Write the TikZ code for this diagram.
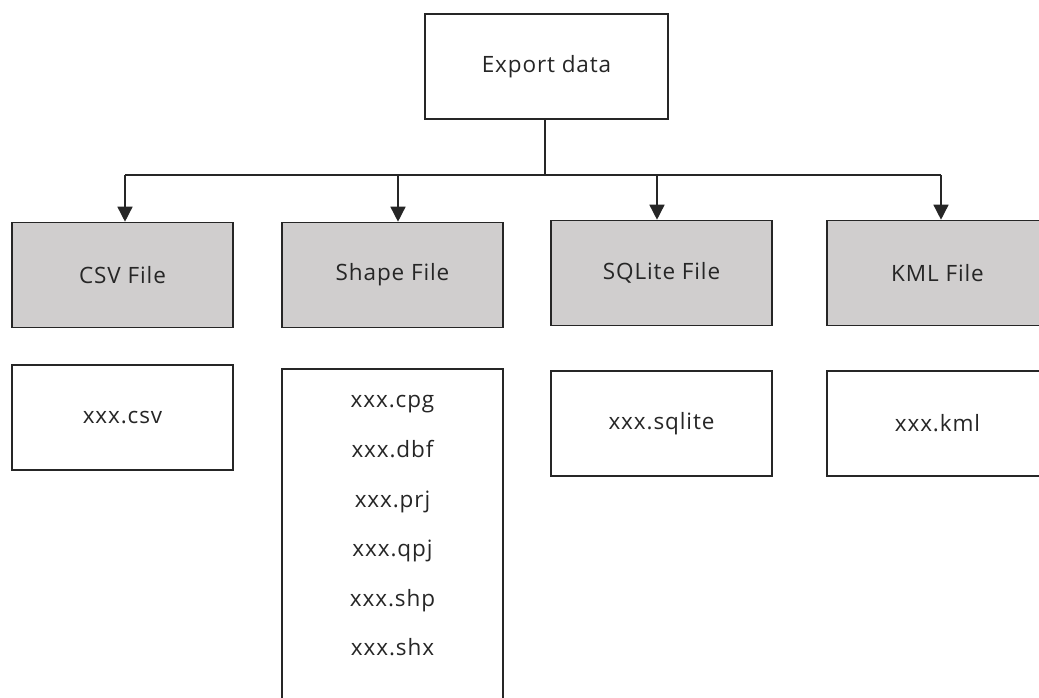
\documentclass[tikz,border=0pt]{standalone}
\usepackage{fontspec}
\setmainfont{Open Sans}[LetterSpace=4]
\usetikzlibrary{arrows.meta}
\definecolor{boxgray}{HTML}{D0CECE}
\definecolor{edge}{HTML}{262626}
\tikzset{
  every node/.style={font=\fontsize{22.5}{26}\selectfont, text=black!85},
  plainbox/.style={draw=edge, line width=1.6pt, fill=white, rectangle,
    minimum width=221pt, minimum height=105pt, inner sep=0pt},
  graybox/.style={plainbox, fill=boxgray},
  link/.style={draw=edge, line width=1.5pt},
  feed/.style={link, -{Triangle[length=15pt,width=15pt]}},
}
\begin{document}
\begin{tikzpicture}[x=1pt, y=-1pt]
  \useasboundingbox (0,0) rectangle (1039,697);

  % root
  \node[plainbox, minimum width=243pt] (export) at (546.5,66.5) {Export data};

  % file types
  \node[graybox] (csv)    at (122.5,275) {CSV File};
  \node[graybox] (shape)  at (392.5,275) {Shape File};
  \node[graybox] (sqlite) at (661.5,273) {SQLite File};
  \node[graybox] (kml)    at (937.5,273) {KML File};

  % output files
  \node[plainbox] (csvout)    at (122.5,417.5) {xxx.csv};
  \node[plainbox, minimum height=345pt] (shapeout) at (392.5,541.5) {};
  \node[align=center, font=\fontsize{22.5}{49.6}\selectfont] (shapelist) at (392.5,526)
    {xxx.cpg\\xxx.dbf\\xxx.prj\\xxx.qpj\\xxx.shp\\xxx.shx};
  \node[plainbox] (sqliteout) at (661.5,423.5) {xxx.sqlite};
  \node[plainbox] (kmlout)    at (937.5,423.5) {xxx.kml};

  % tree connectors
  \coordinate (bus) at (545,175);
  \draw[link] (export.south -| bus) -- (bus);
  \draw[link] ([xshift=2.5pt]csv.north |- bus) -- ([xshift=3.5pt]kml.north |- bus);
  \draw[feed] ([xshift=2.5pt]csv.north |- bus) -- ([xshift=2.5pt]csv.north);
  \draw[feed] ([xshift=5.5pt]shape.north |- bus) -- ([xshift=5.5pt]shape.north);
  \draw[feed] ([xshift=-4.5pt]sqlite.north |- bus) -- ([xshift=-4.5pt]sqlite.north);
  \draw[feed] ([xshift=3.5pt]kml.north |- bus) -- ([xshift=3.5pt]kml.north);
\end{tikzpicture}
\end{document}
